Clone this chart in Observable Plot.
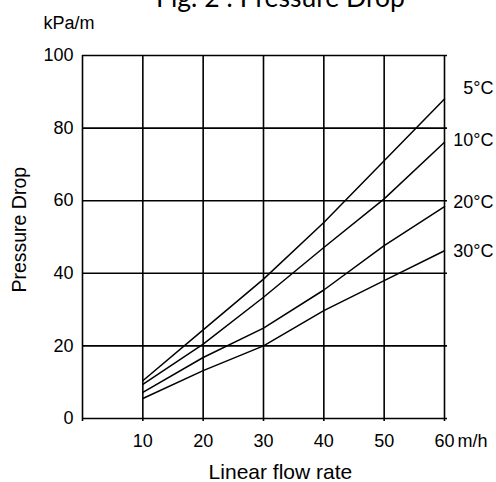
<!DOCTYPE html>
<html>
<head>
<meta charset="utf-8">
<script src="https://cdn.jsdelivr.net/npm/d3@7"></script>
<script src="https://cdn.jsdelivr.net/npm/@observablehq/plot@0.6"></script>
<style>
  body { margin: 0; background: #fff; }
  #wrap { position: relative; width: 496px; height: 482px; overflow: hidden; }
  #title { position: absolute; left: 0; width: 561px; top: -16.5px; text-align: center; line-height: 26.5px;
           font-family: Lato, "Open Sans", sans-serif; font-size: 26.5px; color: #000; z-index: 2; white-space: nowrap; }
  #chart { position: absolute; left: 0; top: 0; }
</style>
</head>
<body>
<div id="wrap">
  <div id="title">Fig. 2 : Pressure Drop</div>
  <div id="chart"></div>
</div>
<script>
const flow = [10, 20, 30, 40, 50, 60];
const series = ["5°C", "10°C", "20°C", "30°C"];
const drop5 = [10.4, 24.4, 38.4, 54.0, 71.0, 88.0];
const drop10 = [9.4, 20.5, 33.4, 47.1, 60.5, 76.1];
const drop20 = [7.2, 16.8, 24.9, 35.4, 47.6, 58.4];
const drop30 = [5.5, 13.2, 20.0, 29.7, 38.0, 46.2];
const labelY = [91, 76.6, 59.6, 46];
const xTicks = [0, 10, 20, 30, 40, 50, 60];
const xTickLabels = [10, 20, 30, 40, 50, 60];
const yTicks = [0, 20, 40, 60, 80, 100];

const all = [drop5, drop10, drop20, drop30];
const data = [];
series.forEach((s, i) => flow.forEach((f, j) => data.push({series: s, flow: f, drop: all[i][j]})));
const labels = series.map((s, i) => ({series: s, flow: 60, drop: labelY[i]}));

const font = "Liberation Sans, Arial, sans-serif";

const chart = Plot.plot({
  width: 496,
  height: 482,
  marginLeft: 82,
  marginRight: 52,
  marginTop: 55,
  marginBottom: 64,
  style: {fontFamily: font, fontSize: "18px", color: "#000", background: "#fff", overflow: "visible"},
  x: {domain: [0, 60], ticks: xTickLabels, tickSize: 0, tickPadding: 16, label: null},
  y: {domain: [0, 100], ticks: yTicks, tickSize: 0, tickPadding: 9, label: null},
  marks: [
    Plot.ruleY(yTicks, {stroke: "#000", strokeWidth: 1.6, insetRight: -3}),
    Plot.ruleX(xTicks, {stroke: "#000", strokeWidth: 1.6, insetBottom: -3}),
    Plot.line(data, {x: "flow", y: "drop", z: "series", stroke: "#000", strokeWidth: 1.5}),
    Plot.text(labels, {x: "flow", y: "drop", text: "series", textAnchor: "end", dx: 49, fontSize: 18}),
    Plot.text(["m/h"], {x: [60], y: [0], text: d => d, textAnchor: "start", dx: 13, dy: 23, lineAnchor: "middle", fontSize: 18}),
    Plot.text(["kPa/m"], {x: [0], y: [100], text: d => d, textAnchor: "start", dx: -39, dy: -32, lineAnchor: "middle", fontSize: 18}),
    Plot.text(["Pressure Drop"], {x: [0], y: [52], text: d => d, rotate: -90, dx: -63, lineAnchor: "middle", textAnchor: "middle", fontSize: 19.5}),
    Plot.text(["Linear flow rate"], {x: [32.8], y: [0], text: d => d, dy: 54, lineAnchor: "middle", fontSize: 21})
  ]
});
document.getElementById("chart").appendChild(chart);
</script>
</body>
</html>
